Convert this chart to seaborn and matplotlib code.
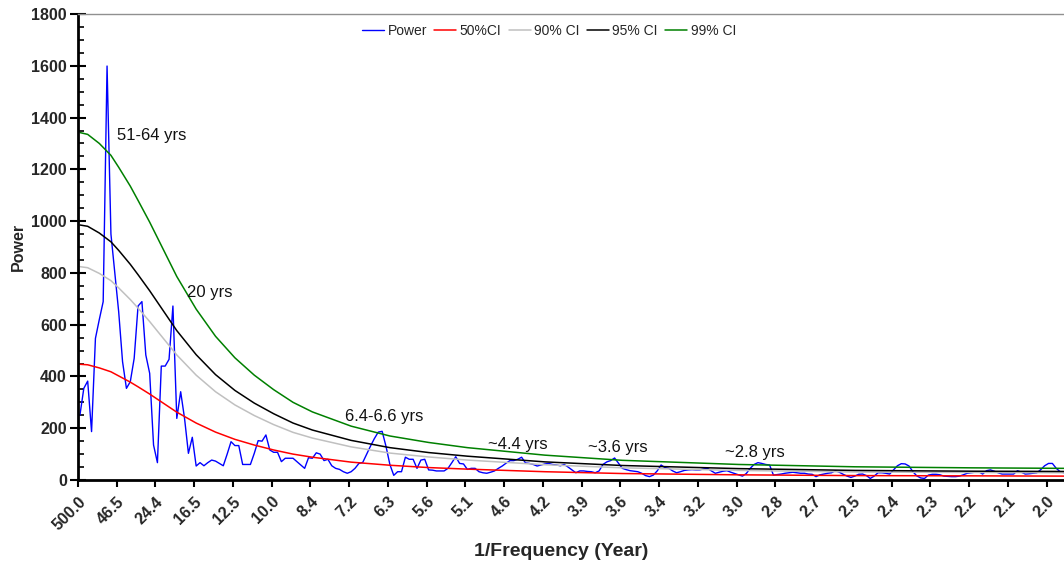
import numpy as np
import pandas as pd
import matplotlib
matplotlib.use("Agg")
import matplotlib.pyplot as plt
from matplotlib.ticker import MultipleLocator, FixedLocator
import seaborn as sns

# ---------------- data ----------------
period_labels = ["500.0", "46.5", "24.4", "16.5", "12.5", "10.0", "8.4", "7.2", "6.3",
                 "5.6", "5.1", "4.6", "4.2", "3.9", "3.6", "3.4", "3.2", "3.0", "2.8",
                 "2.7", "2.5", "2.4", "2.3", "2.2", "2.1", "2.0"]

power = [251, 354, 382, 187, 547, 620, 689, 1599, 950, 800,
         650, 457, 354, 380, 470, 672, 689, 483, 412, 135,
         67, 440, 440, 466, 672, 238, 341, 238, 103, 165,
         54, 67, 55, 67, 77, 73, 64, 55, 100, 148,
         133, 133, 60, 60, 60, 103, 152, 150, 174, 116,
         107, 107, 71, 84, 84, 84, 71, 58, 45, 86,
         84, 105, 100, 75, 80, 55, 45, 41, 32, 26,
         32, 45, 64, 68, 100, 131, 160, 185, 188, 130,
         60, 18, 32, 32, 88, 80, 80, 45, 77, 80,
         39, 38, 35, 35, 35, 45, 67, 90, 64, 62,
         41, 45, 45, 32, 28, 26, 30, 35, 45, 54,
         65, 75, 75, 80, 88, 66, 64, 60, 54, 58,
         62, 64, 60, 58, 55, 60, 50, 39, 28, 35,
         35, 33, 32, 28, 35, 60, 70, 75, 85, 65,
         45, 40, 36, 34, 32, 26, 17, 13, 19, 35,
         58, 48, 45, 35, 28, 32, 37, 39, 40, 39,
         39, 43, 45, 35, 26, 30, 34, 36, 30, 25,
         20, 15, 25, 45, 60, 67, 64, 60, 58, 19,
         21, 23, 26, 28, 30, 28, 26, 26, 23, 22,
         13, 20, 23, 26, 28, 36, 30, 22, 15, 10,
         15, 22, 23, 17, 6, 15, 28, 28, 26, 23,
         39, 55, 63, 62, 54, 32, 16, 8, 6, 19,
         22, 22, 20, 15, 14, 13, 13, 15, 20, 26,
         28, 30, 32, 23, 36, 39, 34, 28, 23, 23,
         23, 23, 36, 30, 23, 24, 26, 28, 40, 55,
         64, 64, 45, 32, 28]

ci_idx = [0, 2, 5, 8, 10, 13, 15, 18, 20, 25, 30, 35, 40, 45, 50, 55, 60, 70, 80, 90, 100,
          120, 140, 170, 200, 230, 254]
ci50 = [447, 445, 433, 418, 402, 378, 360, 332, 312, 262, 220, 185, 157, 135, 116, 100, 88,
        69, 57, 48, 42, 32, 25, 20, 17, 16, 15]
ci90 = [824, 820, 798, 770, 742, 697, 664, 612, 575, 483, 405, 341, 290, 249, 214, 184, 162,
        128, 104, 89, 77, 59, 47, 37, 31, 29, 28]
ci95 = [985, 980, 954, 920, 887, 833, 793, 731, 687, 577, 484, 407, 346, 297, 256, 220, 193,
        153, 125, 106, 92, 70, 56, 44, 37, 34, 33]
ci99 = [1342, 1335, 1300, 1254, 1208, 1135, 1080, 996, 936, 786, 660, 555, 472, 405, 349, 300, 263,
        208, 170, 145, 125, 96, 76, 60, 51, 47, 45]

annotations = [("51-64 yrs", 10.1, 1329), ("20 yrs", 28.1, 723), ("6.4-6.6 yrs", 68.9, 245),
               ("~4.4 yrs", 105.9, 139), ("~3.6 yrs", 131.7, 126), ("~2.8 yrs", 167.0, 105)]

# ---------------- plot ----------------
sns.set_style("white")
plt.rcParams["font.family"] = ["Liberation Sans", "DejaVu Sans"]

fig = plt.figure(figsize=(10.64, 5.63), dpi=100)
ax = fig.add_axes([78 / 1064, 83 / 563, (1064 - 78) / 1064, (480 - 14) / 563])

xp = np.arange(len(power)) + 0.5
xc = np.array(ci_idx) + 0.5

sns.lineplot(x=xp, y=power, color="#0000FF", lw=1.0, label="Power", ax=ax)
sns.lineplot(x=xc, y=ci50, color="#FF0000", lw=1.1, label="50%CI", ax=ax)
sns.lineplot(x=xc, y=ci90, color="#C0C0C0", lw=1.1, label="90% CI", ax=ax)
sns.lineplot(x=xc, y=ci95, color="#000000", lw=1.1, label="95% CI", ax=ax)
sns.lineplot(x=xc, y=ci99, color="#008000", lw=1.1, label="99% CI", ax=ax)

ax.set_xlim(0, 254.5)
ax.set_ylim(0, 1800)

ax.xaxis.set_major_locator(FixedLocator(np.arange(0, 251, 10)))
ax.set_xticklabels(period_labels, rotation=45, ha="right", va="top",
                   rotation_mode="anchor", fontsize=11.5, fontweight="bold")
ax.yaxis.set_major_locator(MultipleLocator(200))
ax.yaxis.set_minor_locator(MultipleLocator(50))
for lab in ax.get_yticklabels():
    lab.set_fontweight("bold")
    lab.set_fontsize(11.5)

ax.tick_params(axis="x", which="major", direction="out", length=5, width=1.5,
               color="black", pad=5, bottom=True)
ax.tick_params(axis="y", which="major", direction="inout", length=12, width=1.5,
               color="black", pad=2, left=True)
ax.tick_params(axis="y", which="minor", direction="in", length=4, width=1.2,
               color="black", left=True)

for s in ["left", "bottom"]:
    ax.spines[s].set_color("black")
    ax.spines[s].set_linewidth(2)
ax.spines["top"].set_color("#909090")
ax.spines["top"].set_linewidth(1)
ax.spines["right"].set_visible(False)

ax.set_xlabel("1/Frequency (Year)", fontsize=14, fontweight="bold", va="center")
ax.set_ylabel("Power", fontsize=11.5, fontweight="bold", va="center")
ax.xaxis.set_label_coords((561.5 - 78) / 986, (480 - 551) / 466)
ax.yaxis.set_label_coords((18 - 78) / 986, 0.5)

for txt, x, y in annotations:
    ax.text(x, y, txt, ha="left", va="center", fontsize=12, color="#111111")

leg = ax.legend(loc="center", bbox_to_anchor=((549 - 78) / 986, (480 - 31) / 466), ncol=5,
                frameon=False, fontsize=10, handlelength=1.6, handletextpad=0.25,
                columnspacing=0.5)

fig.savefig("out.png", dpi=100)
